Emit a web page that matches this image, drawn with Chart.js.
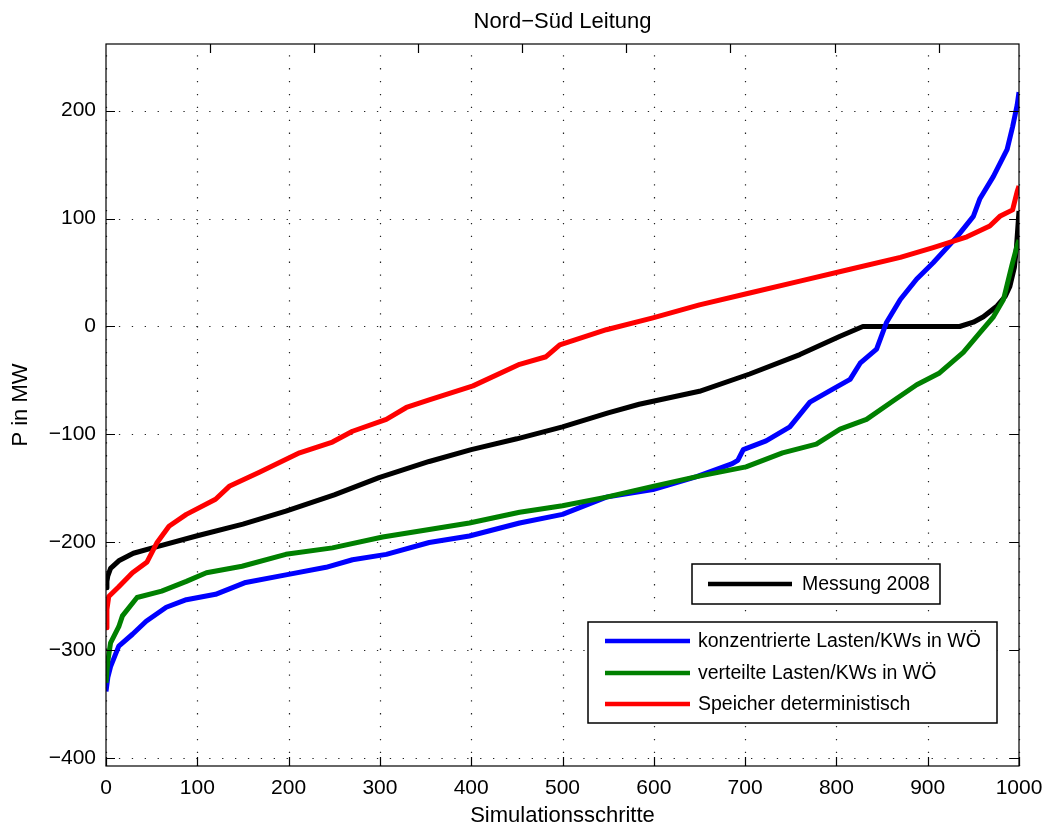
<!DOCTYPE html>
<html>
<head>
<meta charset="utf-8">
<title>Nord−Süd Leitung</title>
<script src="https://cdn.jsdelivr.net/npm/chart.js@4.4.0/dist/chart.umd.min.js"></script>
<style>
  body { margin: 0; background: #fff; }
  canvas { display: block; }
</style>
</head>
<body>
<canvas id="leitungChart" width="1046" height="827"></canvas>
<script>
// axis ticks
const xTicks = [0, 100, 200, 300, 400, 500, 600, 700, 800, 900, 1000];
const yTicks = [-400, -300, -200, -100, 0, 100, 200];
// tick marks of the overlaid legend axes along the top edge
const topTicks = [114, 228, 342, 456, 570, 684, 798, 912];

// Messung 2008
const messungX = [0, 1, 2, 5, 14, 30, 55, 99, 150, 197, 250, 299, 354, 400, 450, 500, 550, 584, 650, 705, 760, 804, 829, 935, 950, 961, 976, 985, 990, 995, 997, 999, 1000];
const messungY = [-242, -236, -231, -224, -217, -210, -204, -194, -183, -171, -156, -140, -125, -114, -104, -93, -80, -72, -60, -44, -26, -9, 0, 0, 4, 9, 19, 28, 37, 55, 71, 95, 107];

// konzentrierte Lasten/KWs in WÖ
const konzX = [0, 2, 5, 14, 29, 44, 66, 88, 120, 153, 197, 241, 270, 307, 354, 398, 453, 500, 548, 599, 647, 686, 692, 698, 723, 749, 771, 796, 815, 826, 844, 855, 870, 888, 906, 932, 950, 957, 972, 987, 993, 998, 1000];
const konzY = [-338, -325, -315, -296, -285, -273, -260, -253, -248, -237, -230, -223, -216, -211, -200, -194, -182, -174, -158, -151, -139, -127, -124, -114, -106, -93, -70, -58, -49, -34, -21, 4, 25, 44, 59, 83, 102, 118, 139, 164, 185, 205, 217];

// verteilte Lasten/KWs in WÖ
const vertX = [0, 2, 5, 14, 18, 34, 61, 88, 110, 149, 197, 248, 303, 354, 398, 453, 500, 548, 599, 647, 701, 741, 778, 804, 833, 862, 888, 913, 939, 957, 972, 983, 992, 998, 1000];
const vertY = [-330, -310, -293, -278, -268, -251, -245, -236, -228, -222, -211, -205, -195, -188, -182, -172, -166, -158, -148, -139, -130, -117, -109, -95, -86, -69, -54, -43, -24, -6, 9, 25, 56, 75, 80];

// Speicher deterministisch
const speicherX = [0, 1, 3, 14, 29, 45, 56, 69, 88, 120, 135, 168, 212, 248, 270, 307, 329, 354, 402, 453, 482, 497, 548, 599, 650, 705, 760, 815, 870, 906, 943, 968, 979, 993, 998, 1000];
const speicherY = [-279, -262, -250, -241, -228, -218, -200, -185, -174, -160, -148, -135, -117, -107, -97, -86, -75, -68, -55, -35, -28, -17, -3, 8, 20, 31, 42, 53, 64, 73, 83, 93, 102, 108, 125, 130];

const toPoints = (xs, ys) => xs.map((x, i) => ({ x: x, y: ys[i] }));
const fontFamily = '"Liberation Sans", Arial, Helvetica, sans-serif';
const signed = v => v < 0 ? '\u2212' + Math.abs(v) : String(v);

// two legend boxes, each listing datasets by index
const legendBoxes = [
  { left: 692, top: 564, right: 940, bottom: 604, lineFrom: 708, lineTo: 792, textX: 802, rows: [584], items: [0] },
  { left: 588, top: 622, right: 997, bottom: 723, lineFrom: 605, lineTo: 690, textX: 698, rows: [641, 673, 704], items: [1, 2, 3] }
];

const framePlugin = {
  id: 'frame',
  beforeDatasetsDraw(chart) {
    const { ctx, chartArea: a, scales: { x, y } } = chart;
    ctx.save();
    ctx.strokeStyle = '#222';
    ctx.lineWidth = 1.2;
    ctx.setLineDash([1.3, 11.6]);
    xTicks.forEach(v => {
      const px = Math.round(x.getPixelForValue(v)) + 0.5;
      ctx.beginPath();
      ctx.moveTo(px, a.bottom);
      ctx.lineTo(px, a.top);
      ctx.stroke();
    });
    yTicks.forEach(v => {
      const py = Math.round(y.getPixelForValue(v)) + 0.5;
      ctx.beginPath();
      ctx.moveTo(a.left, py);
      ctx.lineTo(a.right, py);
      ctx.stroke();
    });
    ctx.restore();
  },
  afterDatasetsDraw(chart) {
    const { ctx, chartArea: a, scales: { x, y } } = chart;
    const len = 9;
    ctx.save();
    ctx.strokeStyle = '#000';
    ctx.lineWidth = 1.2;
    ctx.strokeRect(a.left, a.top, a.right - a.left, a.bottom - a.top);
    ctx.beginPath();
    yTicks.forEach(v => {
      const py = Math.round(y.getPixelForValue(v)) + 0.5;
      ctx.moveTo(a.left, py); ctx.lineTo(a.left + len, py);
      ctx.moveTo(a.right, py); ctx.lineTo(a.right - len, py);
    });
    xTicks.forEach(v => {
      const px = Math.round(x.getPixelForValue(v)) + 0.5;
      ctx.moveTo(px, a.bottom); ctx.lineTo(px, a.bottom - len);
    });
    topTicks.forEach(v => {
      const px = Math.round(x.getPixelForValue(v)) + 0.5;
      ctx.moveTo(px, a.top); ctx.lineTo(px, a.top + len);
    });
    ctx.stroke();

    // legends
    ctx.font = '19.5px ' + fontFamily;
    ctx.textBaseline = 'middle';
    ctx.textAlign = 'left';
    legendBoxes.forEach(b => {
      ctx.fillStyle = '#fff';
      ctx.fillRect(b.left, b.top, b.right - b.left, b.bottom - b.top);
      ctx.strokeStyle = '#000';
      ctx.lineWidth = 1.5;
      ctx.strokeRect(b.left, b.top, b.right - b.left, b.bottom - b.top);
      b.items.forEach((idx, i) => {
        const ds = chart.data.datasets[idx];
        const ry = b.rows[i];
        ctx.strokeStyle = ds.borderColor;
        ctx.lineWidth = 4.5;
        ctx.beginPath();
        ctx.moveTo(b.lineFrom, ry);
        ctx.lineTo(b.lineTo, ry);
        ctx.stroke();
        ctx.fillStyle = '#000';
        ctx.fillText(ds.label, b.textX, ry + 1);
      });
    });
    ctx.restore();
  },
  afterDraw(chart) {
    const { ctx, chartArea: a } = chart;
    ctx.save();
    ctx.font = '22px ' + fontFamily;
    ctx.fillStyle = '#000';
    ctx.textAlign = 'center';
    ctx.textBaseline = 'alphabetic';
    ctx.fillText('Nord\u2212Süd Leitung', (a.left + a.right) / 2, 28);
    ctx.restore();
  }
};

const lineStyle = { borderWidth: 5, pointRadius: 0, tension: 0, fill: false, borderJoinStyle: 'round' };

new Chart(document.getElementById('leitungChart'), {
  type: 'line',
  data: {
    datasets: [
      Object.assign({ label: 'Messung 2008', data: toPoints(messungX, messungY), borderColor: '#000000', order: 4 }, lineStyle),
      Object.assign({ label: 'konzentrierte Lasten/KWs in WÖ', data: toPoints(konzX, konzY), borderColor: '#0000ff', order: 3 }, lineStyle),
      Object.assign({ label: 'verteilte Lasten/KWs in WÖ', data: toPoints(vertX, vertY), borderColor: '#008000', order: 2 }, lineStyle),
      Object.assign({ label: 'Speicher deterministisch', data: toPoints(speicherX, speicherY), borderColor: '#ff0000', order: 1 }, lineStyle)
    ]
  },
  options: {
    responsive: false,
    animation: false,
    devicePixelRatio: 1,
    layout: { padding: { top: 44, right: 27, left: 0, bottom: 0 } },
    plugins: {
      legend: { display: false },
      tooltip: { enabled: false }
    },
    scales: {
      x: {
        type: 'linear',
        min: 0,
        max: 1000,
        afterBuildTicks: s => { s.ticks = xTicks.map(v => ({ value: v })); },
        // fixed height; end labels may overhang into the page margin
        afterFit: s => { s.height = 61; s.paddingLeft = 0; s.paddingRight = 0; },
        grid: { display: false, drawTicks: false },
        border: { display: false },
        ticks: { padding: 10, color: '#000', font: { family: fontFamily, size: 21 }, maxRotation: 0, callback: v => String(v) },
        title: { display: true, text: 'Simulationsschritte', color: '#000', font: { family: fontFamily, size: 22, lineHeight: 1 }, padding: { top: 0, bottom: 0 } }
      },
      y: {
        type: 'linear',
        min: -407,
        max: 261.6,
        afterBuildTicks: s => { s.ticks = yTicks.map(v => ({ value: v })); },
        afterFit: s => { s.width = 106; s.paddingTop = 0; s.paddingBottom = 0; },
        grid: { display: false, drawTicks: false },
        border: { display: false },
        ticks: { padding: 10, color: '#000', font: { family: fontFamily, size: 21 }, callback: v => signed(v) },
        title: { display: true, text: 'P in MW', color: '#000', font: { family: fontFamily, size: 22, lineHeight: 1 }, padding: { top: 10, bottom: 0 } }
      }
    }
  },
  plugins: [framePlugin]
});
</script>
</body>
</html>
